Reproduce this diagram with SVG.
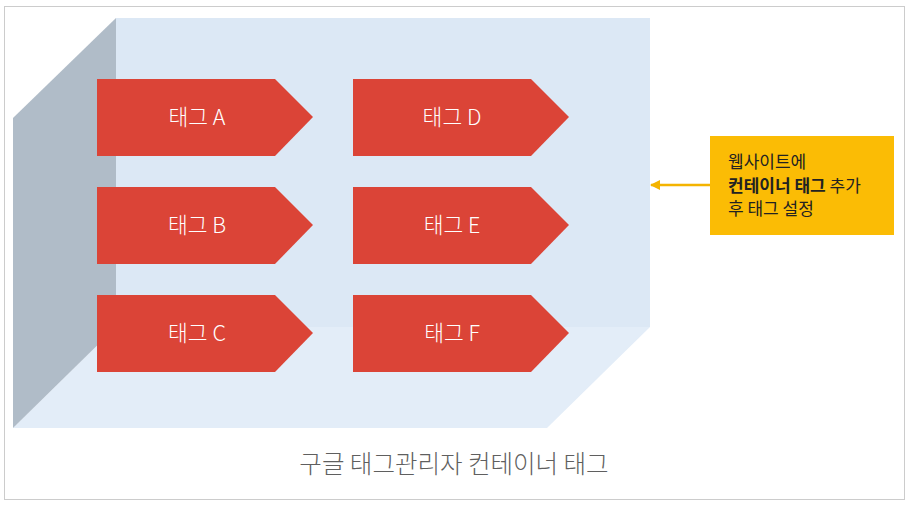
<svg xmlns="http://www.w3.org/2000/svg" width="909" height="508" viewBox="0 0 909 508">
<defs>
<style>
.tag{fill:#db4437;}
.tl{font-family:"Noto Sans CJK KR","Noto Sans",sans-serif;font-size:21.5px;fill:#ffffff;text-anchor:middle;font-weight:300;}
.nt{font-family:"Noto Sans CJK KR","Noto Sans",sans-serif;font-size:17px;fill:#222222;}
.cap{font-family:"Noto Sans CJK KR","Noto Sans",sans-serif;font-size:24.5px;fill:#5f5f5f;text-anchor:middle;font-weight:300;}
</style>
<marker id="ah" viewBox="0 0 10 10" refX="9" refY="5" markerWidth="4" markerHeight="4" orient="auto">
<path d="M0,0 L10,5 L0,10 z" fill="#f4b400"/>
</marker>
</defs>
<rect x="4.5" y="6.5" width="900" height="493" fill="#ffffff" stroke="#cccccc" stroke-width="1"/>
<g id="container">
<rect x="116" y="18" width="534" height="309" fill="#dce8f5"/>
<polygon points="116,327 650,327 547,428 13,428" fill="#e3edf8"/>
<polygon points="13,118 116,18 116,327 13,428" fill="#b0bcc8"/>
</g>
<g id="tagA"><polygon class="tag" points="97,79 275,79 313,117 275,156 97,156"/><text class="tl" x="197" y="125">태그 A</text></g>
<g id="tagB"><polygon class="tag" points="97,187 275,187 313,225 275,264 97,264"/><text class="tl" x="197" y="233">태그 B</text></g>
<g id="tagC"><polygon class="tag" points="97,295 275,295 313,333 275,372 97,372"/><text class="tl" x="197" y="341">태그 C</text></g>
<g id="tagD"><polygon class="tag" points="353,79 531,79 569,117 531,156 353,156"/><text class="tl" x="452" y="125">태그 D</text></g>
<g id="tagE"><polygon class="tag" points="353,187 531,187 569,225 531,264 353,264"/><text class="tl" x="452" y="233">태그 E</text></g>
<g id="tagF"><polygon class="tag" points="353,295 531,295 569,333 531,372 353,372"/><text class="tl" x="452" y="341">태그 F</text></g>
<g id="note">
<rect x="710" y="136" width="184" height="99" fill="#fbbc05"/>
<text class="nt" x="728" y="168">웹사이트에</text>
<text class="nt" x="728" y="192"><tspan font-weight="bold">컨테이너 태그</tspan> 추가</text>
<text class="nt" x="728" y="215">후 태그 설정</text>
</g>
<g id="connectors">
<line x1="710" y1="185" x2="651" y2="185" stroke="#f4b400" stroke-width="2.5" marker-end="url(#ah)"/>
</g>
<text class="cap" x="454" y="473">구글 태그관리자 컨테이너 태그</text>
</svg>
